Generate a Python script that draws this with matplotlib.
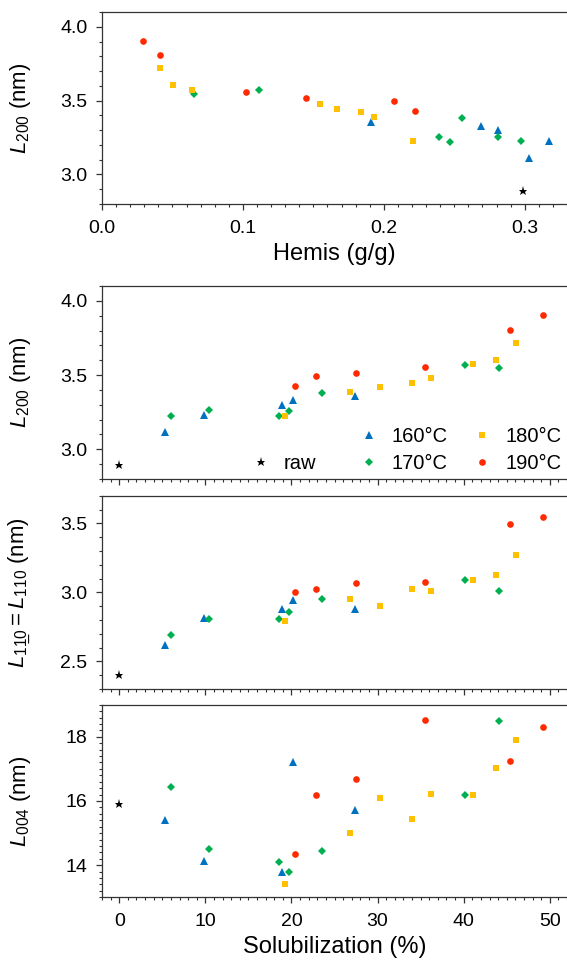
import matplotlib
matplotlib.use("Agg")
import matplotlib.pyplot as plt
from matplotlib.lines import Line2D
from matplotlib.ticker import MultipleLocator

plt.rcParams['font.family'] = ['Liberation Sans', 'DejaVu Sans']
plt.rcParams['mathtext.fontset'] = 'custom'
plt.rcParams['mathtext.rm'] = 'Liberation Sans'
plt.rcParams['mathtext.it'] = 'Liberation Sans:italic'

# ---------------- data ----------------
# Panel 1: L200 vs hemicellulose content
hemis_160 = [0.191, 0.269, 0.281, 0.303, 0.317]
l200h_160 = [3.354, 3.325, 3.300, 3.112, 3.228]
hemis_170 = [0.0655, 0.1116, 0.2395, 0.2473, 0.2553, 0.281, 0.297]
l200h_170 = [3.544, 3.569, 3.255, 3.219, 3.379, 3.257, 3.226]
hemis_180 = [0.0414, 0.0502, 0.0638, 0.1544, 0.1665, 0.184, 0.193, 0.221]
l200h_180 = [3.718, 3.603, 3.569, 3.476, 3.445, 3.420, 3.386, 3.224]
hemis_190 = [0.0289, 0.041, 0.102, 0.1445, 0.207, 0.222]
l200h_190 = [3.905, 3.808, 3.556, 3.515, 3.495, 3.430]
hemis_raw = [0.2986]
l200h_raw = [2.889]

# Panels 2-4: crystallite sizes vs solubilization (%)
sol_160 = [5.34, 9.90, 18.9, 20.2, 27.4]
sol_170 = [6.07, 10.48, 18.6, 19.77, 23.5, 40.1, 44.1]
sol_180 = [19.3, 26.75, 30.3, 34.0, 36.2, 41.1, 43.7, 46.1]
sol_190 = [20.4, 22.9, 27.5, 35.5, 45.4, 49.2]
sol_raw = [0.0]

l200_160 = [3.118, 3.229, 3.300, 3.330, 3.357]
l200_170 = [3.226, 3.262, 3.222, 3.258, 3.379, 3.567, 3.545]
l200_180 = [3.224, 3.386, 3.419, 3.446, 3.478, 3.572, 3.601, 3.715]
l200_190 = [3.428, 3.493, 3.513, 3.554, 3.805, 3.902]
l200_raw = [2.894]

l110_160 = [2.619, 2.814, 2.882, 2.945, 2.877]
l110_170 = [2.691, 2.807, 2.809, 2.858, 2.954, 3.087, 3.010]
l110_180 = [2.795, 2.954, 2.900, 3.025, 3.012, 3.092, 3.126, 3.268]
l110_190 = [3.005, 3.022, 3.070, 3.072, 3.496, 3.546]
l110_raw = [2.399]

l004_160 = [15.42, 14.12, 13.79, 17.20, 15.71]
l004_170 = [16.43, 14.50, 14.09, 13.78, 14.43, 16.19, 18.49]
l004_180 = [13.40, 15.00, 16.10, 15.43, 16.21, 16.20, 17.04, 17.91]
l004_190 = [14.34, 16.20, 16.69, 18.51, 17.24, 18.31]
l004_raw = [15.92]

labels = ['160°C', '170°C', '180°C', '190°C', 'raw']
x_hemis_ticks = [0.0, 0.1, 0.2, 0.3]
x_sol_ticks = [0, 10, 20, 30, 40, 50]

# ---------------- style ----------------
C160, C170, C180, C190 = '#0070C0', '#00B050', '#FFC000', '#FF2A00'
sty = {
    '160': dict(marker='^', color=C160, ms=5.4),
    '170': dict(marker='D', color=C170, ms=4.4),
    '180': dict(marker='s', color=C180, ms=4.2),
    '190': dict(marker='o', color=C190, ms=4.8),
    'raw': dict(marker='*', color='black', ms=6.5),
}

fig = plt.figure(figsize=(5.67, 9.64), dpi=100)
L, W = 102 / 567, 1 - 102 / 567
rects = [
    (L, 1 - 204 / 964, W, 192 / 964),
    (L, 1 - 479 / 964, W, 193 / 964),
    (L, 1 - 689 / 964, W, 193.3 / 964),
    (L, 1 - 897.3 / 964, W, 192.6 / 964),
]
axes = [fig.add_axes(r) for r in rects]

TICK_FS = 14
XLABEL_FS = 17
YLABEL_FS = 16


def plot_set(ax, xs, ys):
    keys = ['160', '170', '180', '190', 'raw']
    handles = []
    for k, x, y, lab in zip(keys, xs, ys, labels):
        h, = ax.plot(x, y, linestyle='none', markeredgewidth=0, label=lab,
                     **sty[k], zorder=3)
        handles.append(h)
    return handles


def style_ax(ax):
    for s in ['left', 'bottom', 'top']:
        ax.spines[s].set_linewidth(0.9)
        ax.spines[s].set_color('#333333')
    ax.spines['right'].set_visible(False)
    ax.tick_params(which='both', direction='out', top=False, right=False,
                   color='#333333', labelsize=TICK_FS)
    ax.tick_params(which='major', length=4.5, width=0.9)
    ax.tick_params(which='minor', length=2.2, width=0.8)
    ax.tick_params(axis='x', which='major', pad=7)
    ax.tick_params(axis='y', which='major', pad=6)


# Panel 1
ax = axes[0]
plot_set(ax, [hemis_160, hemis_170, hemis_180, hemis_190, hemis_raw],
         [l200h_160, l200h_170, l200h_180, l200h_190, l200h_raw])
ax.set_xlim(0, 0.33)
ax.set_ylim(2.8, 4.1)
ax.set_xticks(x_hemis_ticks)
ax.set_xticklabels(['%.1f' % v for v in x_hemis_ticks])
ax.xaxis.set_minor_locator(MultipleLocator(0.01))
ax.set_yticks([3.0, 3.5, 4.0])
ax.yaxis.set_minor_locator(MultipleLocator(0.1))
ax.set_xlabel('Hemis (g/g)', fontsize=XLABEL_FS, labelpad=4)
ax.set_ylabel(r'$\mathit{L}_{200}$ (nm)', fontsize=YLABEL_FS)
style_ax(ax)

# Panel 2
ax = axes[1]
hs = plot_set(ax, [sol_160, sol_170, sol_180, sol_190, sol_raw],
              [l200_160, l200_170, l200_180, l200_190, l200_raw])
ax.set_ylim(2.8, 4.1)
ax.set_yticks([3.0, 3.5, 4.0])
ax.yaxis.set_minor_locator(MultipleLocator(0.1))
ax.set_ylabel(r'$\mathit{L}_{200}$ (nm)', fontsize=YLABEL_FS)
blank = Line2D([], [], linestyle='none', marker='none')
ax.legend([blank, hs[4], hs[0], hs[1], hs[2], hs[3]],
          [' ' * 9, 'raw', labels[0], labels[1], labels[2], labels[3]],
          ncol=3, frameon=False, loc='lower right',
          bbox_to_anchor=(1.014, -0.03), fontsize=14.5,
          handlelength=0.8, handletextpad=0.75, columnspacing=1.3,
          labelspacing=0.4, borderaxespad=0.2)
style_ax(ax)

# Panel 3
ax = axes[2]
plot_set(ax, [sol_160, sol_170, sol_180, sol_190, sol_raw],
         [l110_160, l110_170, l110_180, l110_190, l110_raw])
ax.set_ylim(2.3, 3.7)
ax.set_yticks([2.5, 3.0, 3.5])
ax.yaxis.set_minor_locator(MultipleLocator(0.1))
lab110 = r'$\mathit{L}_{\mathit{1' + '1\u0332' + r'0}}=\mathit{L}_{\mathit{110}}$ (nm)'
ax.set_ylabel(lab110, fontsize=YLABEL_FS)
style_ax(ax)

# Panel 4
ax = axes[3]
plot_set(ax, [sol_160, sol_170, sol_180, sol_190, sol_raw],
         [l004_160, l004_170, l004_180, l004_190, l004_raw])
ax.set_ylim(13, 19)
ax.set_yticks([14, 16, 18])
ax.yaxis.set_minor_locator(MultipleLocator(0.2))
ax.set_ylabel(r'$\mathit{L}_{\mathit{004}}$ (nm)', fontsize=YLABEL_FS)
ax.set_xlabel('Solubilization (%)', fontsize=XLABEL_FS, labelpad=4)
style_ax(ax)

for ax in axes[1:]:
    ax.set_xlim(-2, 52)
    ax.set_xticks(x_sol_ticks)
    ax.xaxis.set_minor_locator(MultipleLocator(1))
for ax in axes[1:3]:
    ax.set_xticklabels([])
axes[3].set_xticklabels([str(v) for v in x_sol_ticks])

for ax in axes:
    ax.yaxis.set_label_coords(-0.148, 0.5)

try:
    fig.canvas.draw()
except Exception:
    axes[2].set_ylabel(r'$\mathit{L}_{\mathit{1\bar{1}0}}=\mathit{L}_{\mathit{110}}$ (nm)',
                       fontsize=YLABEL_FS)

fig.savefig('out.png', dpi=100)
